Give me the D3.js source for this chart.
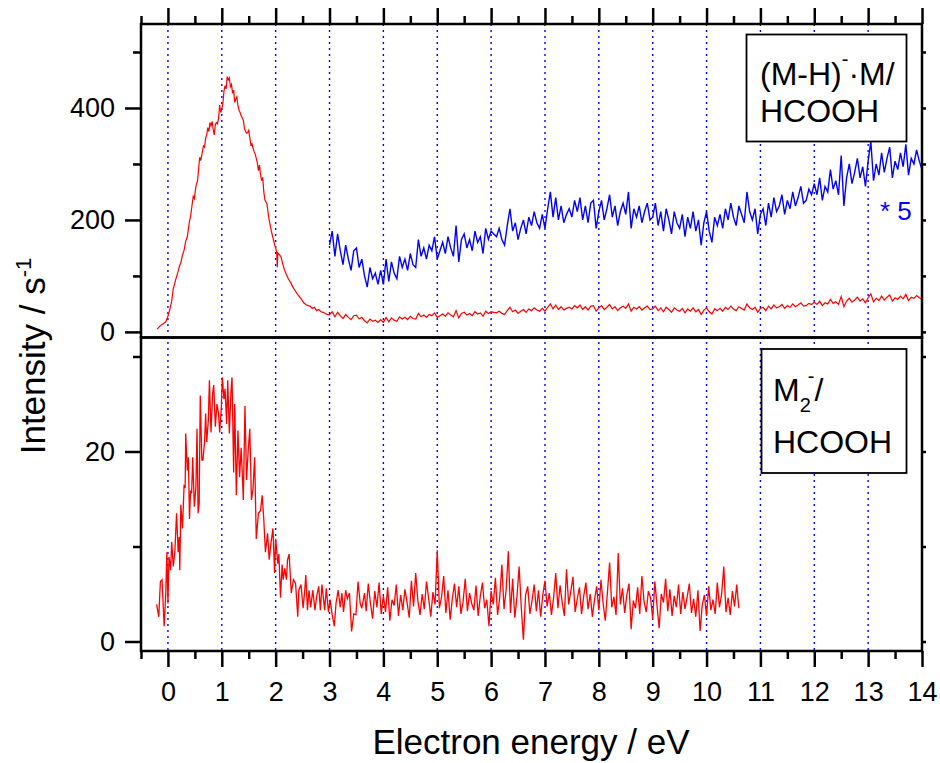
<!DOCTYPE html>
<html>
<head>
<meta charset="utf-8">
<script src="https://cdn.jsdelivr.net/npm/d3@7"></script>
<style>
body { margin: 0; background: #fff; }
svg { display: block; font-family: "Liberation Sans", Arial, sans-serif; }
</style>
</head>
<body>
<div class="chart"></div>
<script>

// (M-H)-.M / HCOOH, rising part of the spectrum, [energy eV, counts/s]
const topPeak = [[-0.2,5],[-0.16,9],[-0.12,13],[-0.08,15],[-0.04,18],[0,28],[0.04,42],[0.07,55],[0.1,78],[0.12,84],[0.14,92],[0.18,105],[0.21,116],[0.24,124],[0.27,137],[0.3,146],[0.33,162],[0.36,170],[0.38,184],[0.4,198],[0.42,206],[0.45,228],[0.47,242],[0.49,238],[0.52,260],[0.55,270],[0.57,292],[0.59,312],[0.61,306],[0.64,322],[0.66,332],[0.68,330],[0.7,346],[0.72,352],[0.74,365],[0.76,358],[0.78,374],[0.8,368],[0.82,376],[0.84,362],[0.86,352],[0.88,370],[0.9,374],[0.92,372],[0.94,382],[0.96,405],[0.98,392],[1,398],[1.02,408],[1.04,430],[1.06,440],[1.08,434],[1.1,456],[1.12,450],[1.14,454],[1.16,438],[1.18,442],[1.2,426],[1.22,432],[1.24,410],[1.26,416],[1.28,420],[1.3,404],[1.32,396],[1.34,392],[1.36,386],[1.38,382],[1.4,378],[1.42,364],[1.44,358],[1.46,355],[1.48,356],[1.5,360],[1.52,347],[1.54,334],[1.56,336],[1.58,328],[1.6,322],[1.62,318],[1.64,310],[1.66,302],[1.68,288],[1.7,298],[1.72,280],[1.74,270],[1.76,276],[1.78,250],[1.8,236],[1.82,232],[1.84,228],[1.86,212],[1.88,200],[1.9,190],[1.92,180],[1.94,172],[1.96,164],[1.98,156],[2,150],[2.02,142],[2.03,115],[2.04,141],[2.07,138],[2.1,134],[2.13,122],[2.16,112],[2.2,102],[2.24,94],[2.28,88],[2.32,80],[2.36,74],[2.4,68],[2.44,63],[2.48,58],[2.52,52],[2.56,49],[2.6,47],[2.64,46],[2.68,42],[2.72,44],[2.76,38],[2.8,40],[2.84,36],[2.88,35],[2.92,33],[2.96,31]];

// tail from 3.00 eV, one value every 0.05 eV (blue trace is the same tail * 5)
const tailStart = 3.0;
const tailStep = 0.05;
const topTail = [
  31,36,27,35,29,24,31,26,22,29,30,23,26,20,16,23,19,21,17,22,
  17,26,18,25,21,19,27,23,26,22,28,24,23,33,27,30,26,31,29,34,
  26,29,32,28,34,30,27,38,25,33,35,30,33,29,36,32,34,28,37,33,
  36,35,34,37,33,31,38,44,36,39,33,37,40,35,41,38,43,39,37,42,
  37,44,50,41,48,40,45,39,42,44,41,47,43,48,40,45,39,46,47,37,
  43,47,40,44,49,41,45,38,43,46,42,50,37,44,41,45,39,43,46,40,
  41,46,38,43,36,44,40,35,43,39,37,42,34,41,37,43,36,40,31,39,
  43,36,32,41,38,42,37,44,40,46,41,38,45,42,39,50,43,40,44,35,
  42,44,38,46,41,48,43,45,49,42,47,44,50,45,48,52,46,47,51,49,
  53,49,55,47,52,50,58,51,54,49,63,45,55,60,53,57,62,55,59,52,
  61,68,54,60,56,64,57,62,66,55,61,58,64,59,67,56,62,60,65,61,58
];
const blueFactor = 5;

// M2- / HCOOH, [energy eV, counts/s]
const bottomPeak = [[-0.21,3.9],[-0.17,2.6],[-0.14,6.3],[-0.11,6.5],[-0.07,1.6],[-0.04,5.1],[-0.02,9.4],[0,4],[0.02,8.9],[0.05,7.5],[0.07,10.5],[0.1,7.9],[0.13,9.6],[0.16,13.5],[0.19,9.4],[0.21,11],[0.22,7.5],[0.24,14.4],[0.27,11.9],[0.3,16.4],[0.32,16.3],[0.33,21.9],[0.36,18],[0.38,19.4],[0.4,12.9],[0.42,15.9],[0.44,15.6],[0.46,19.4],[0.49,14.2],[0.52,16.3],[0.54,22.4],[0.56,13.5],[0.58,14.5],[0.6,25.9],[0.63,19.1],[0.65,19.1],[0.68,21],[0.7,24],[0.72,21],[0.75,23.3],[0.77,27.5],[0.8,22],[0.83,26.1],[0.85,27],[0.88,22.6],[0.91,25],[0.94,24],[0.96,22],[0.99,24.5],[1.01,27.8],[1.04,25.5],[1.06,26.6],[1.09,22.9],[1.11,27.5],[1.14,21.9],[1.17,26.2],[1.19,27.8],[1.22,17.8],[1.24,25],[1.27,15.4],[1.3,22.2],[1.33,17.3],[1.36,20.4],[1.4,14.9],[1.43,24.8],[1.46,17],[1.49,20.1],[1.52,22.4],[1.55,14.9],[1.58,16.1],[1.61,19.4],[1.64,10.8],[1.68,13.5],[1.72,13.8],[1.75,15.4],[1.78,12.8],[1.81,9.4],[1.85,11.4],[1.88,8.6],[1.91,10.2],[1.95,11.9],[1.98,7.2],[2,10.8],[2.04,8.2],[2.06,9.2],[2.09,4.6],[2.12,8.1],[2.14,6.5],[2.17,7.7],[2.2,6.5],[2.22,8.6],[2.25,9.2],[2.29,5.1],[2.33,6.5],[2.37,6.1],[2.41,2.6],[2.43,5.4],[2.47,6],[2.51,3.5],[2.54,5.4],[2.56,7],[2.59,3.3],[2.62,5.4],[2.65,3.6],[2.69,5.4],[2.73,3.3],[2.76,4.7],[2.8,5.8],[2.83,3.3],[2.86,6],[2.91,3.3],[2.94,5.6],[2.98,3.1],[3.01,4.4],[3.05,2.8],[3.09,1.6],[3.12,4],[3.16,5.4],[3.2,3.6],[3.23,5.1],[3.26,3.1],[3.3,5.4],[3.33,4.5],[3.37,5.1],[3.41,1.05],[3.45,2.9],[3.49,2.8],[3.53,6.3],[3.57,4],[3.6,3.5],[3.65,5.1]];

// tail from 3.68 eV, one value every 0.04 eV
const bottomTailStart = 3.68;
const bottomTailStep = 0.04;
const bottomTail = [
  3.2,6.1,4.0,2.4,5.3,3.6,6.2,2.9,4.8,3.1,5.7,2.2,4.4,3.8,6.0,2.7,4.9,3.3,5.5,4.1,2.5,6.4,3.7,7.2,4.3,
  2.8,5.0,3.4,6.3,4.6,2.6,5.2,3.9,9.6,3.5,4.7,6.9,3.0,5.4,2.3,4.5,6.1,3.6,5.8,2.9,4.2,6.6,3.2,5.1,4.0,
  3.3,5.9,2.7,4.8,6.2,3.5,4.4,1.6,5.3,3.9,6.7,2.8,4.6,8.1,3.4,5.5,9.5,3.0,6.6,2.5,4.7,7.9,3.6,0.2,4.9,
  5.8,2.9,4.3,6.0,3.2,5.4,2.6,4.9,6.4,3.7,5.1,2.8,4.6,7.2,3.5,5.9,4.1,2.7,7.6,3.9,5.3,6.8,3.1,4.5,5.7,
  2.9,4.8,6.2,3.4,5.0,2.6,4.4,5.8,3.3,6.5,4.0,2.2,5.2,8.3,3.6,4.7,2.8,9.3,3.9,5.6,3.0,4.9,6.1,1.3,4.3,
  3.5,5.7,2.9,6.9,4.2,3.1,5.3,4.6,2.4,6.3,3.8,1.4,5.0,4.1,6.6,3.2,5.5,2.7,4.8,3.6,6.0,2.9,5.2,3.4,4.7,
  6.1,3.0,4.5,2.6,5.4,1.1,3.8,4.9,2.7,5.8,3.3,4.4,2.9,6.2,3.6,5.0,7.9,3.1,4.6,2.8,5.3,3.7,6.0,3.5
];

const xMajor = [0,1,2,3,4,5,6,7,8,9,10,11,12,13,14];
const xMinor = [-0.5,0.5,1.5,2.5,3.5,4.5,5.5,6.5,7.5,8.5,9.5,10.5,11.5,12.5,13.5];
const gridLines = [0,1,2,3,4,5,6,7,8,9,10,11,12,13];
const topMajor = [0,200,400];
const topMinor = [100,300,500];
const topRight = [0,100,200,300,400,500];
const botMajor = [0,20];
const botMinor = [10,30];
const botRight = [0,10,20,30];

const W = 940, H = 763;
const fLeft = 141, fRight = 922, fTop = 24, fMid = 337.5, fBottom = 651;
const font = '"Liberation Sans", Arial, sans-serif';

const xScale = d3.scaleLinear().domain([-0.5, 14]).range([fLeft, fRight]);
const yTop = d3.scaleLinear().domain([-10, 550]).range([fMid, fTop]);
const yBot = d3.scaleLinear().domain([-1, 32]).range([fBottom, fMid]);

const topRed = topPeak.concat(topTail.map((v, i) => [tailStart + i * tailStep, v]));
const topBlue = topTail.map((v, i) => [tailStart + i * tailStep, v * blueFactor]);
const botRed = bottomPeak.concat(bottomTail.map((v, i) => [bottomTailStart + i * bottomTailStep, v]));

const svg = d3.select('.chart').append('svg')
  .attr('width', W)
  .attr('height', H);

// dotted guide lines
svg.append('g').selectAll('line')
  .data(gridLines)
  .enter().append('line')
  .attr('x1', d => xScale(d)).attr('x2', d => xScale(d))
  .attr('y1', fTop).attr('y2', fBottom)
  .attr('stroke', '#0000ff')
  .attr('stroke-width', 1.4)
  .attr('stroke-dasharray', '2,4');

const lineTop = d3.line().x(d => xScale(d[0])).y(d => yTop(d[1]));
const lineBot = d3.line().x(d => xScale(d[0])).y(d => yBot(d[1]));

svg.append('path').datum(topBlue)
  .attr('d', lineTop).attr('fill', 'none')
  .attr('stroke', '#0000ff').attr('stroke-width', 1.4);

svg.append('path').datum(topRed)
  .attr('d', lineTop).attr('fill', 'none')
  .attr('stroke', '#ff0000').attr('stroke-width', 1.2);

svg.append('path').datum(botRed)
  .attr('d', lineBot).attr('fill', 'none')
  .attr('stroke', '#ff0000').attr('stroke-width', 1.3);

// axes
function addAxis(gen, transform, labels) {
  const g = svg.append('g').attr('transform', transform).call(gen);
  g.select('.domain').remove();
  g.attr('font-family', font).attr('font-size', 27);
  g.selectAll('line').attr('stroke', '#000').attr('stroke-width', 2.5);
  g.selectAll('text').attr('fill', '#000');
  if (!labels) g.selectAll('text').remove();
}

addAxis(d3.axisTop(xScale).tickValues(xMajor).tickSize(16), `translate(0,${fTop})`, false);
addAxis(d3.axisTop(xScale).tickValues(xMinor).tickSize(8), `translate(0,${fTop})`, false);
addAxis(d3.axisBottom(xScale).tickValues(xMajor).tickSize(16).tickPadding(15).tickFormat(d3.format('d')), `translate(0,${fBottom})`, true);
addAxis(d3.axisBottom(xScale).tickValues(xMinor).tickSize(8), `translate(0,${fBottom})`, false);

addAxis(d3.axisLeft(yTop).tickValues(topMajor).tickSize(16).tickPadding(10).tickFormat(d3.format('d')), `translate(${fLeft},0)`, true);
addAxis(d3.axisLeft(yTop).tickValues(topMinor).tickSize(8), `translate(${fLeft},0)`, false);
addAxis(d3.axisLeft(yBot).tickValues(botMajor).tickSize(16).tickPadding(10).tickFormat(d3.format('d')), `translate(${fLeft},0)`, true);
addAxis(d3.axisLeft(yBot).tickValues(botMinor).tickSize(8), `translate(${fLeft},0)`, false);

addAxis(d3.axisRight(yTop).tickValues(topRight).tickSize(4), `translate(${fRight},0)`, false);
addAxis(d3.axisRight(yBot).tickValues(botRight).tickSize(4), `translate(${fRight},0)`, false);

// frames
svg.append('rect')
  .attr('x', fLeft).attr('y', fTop)
  .attr('width', fRight - fLeft).attr('height', fMid - fTop)
  .attr('fill', 'none').attr('stroke', '#000').attr('stroke-width', 2.5);
svg.append('rect')
  .attr('x', fLeft).attr('y', fMid)
  .attr('width', fRight - fLeft).attr('height', fBottom - fMid)
  .attr('fill', 'none').attr('stroke', '#000').attr('stroke-width', 2.5);

// legend boxes
svg.append('rect')
  .attr('x', 746.5).attr('y', 34.5).attr('width', 160).attr('height', 107)
  .attr('fill', '#fff').attr('stroke', '#000').attr('stroke-width', 1.8);

const leg1 = svg.append('text')
  .attr('font-size', 32).attr('fill', '#000');
const l1 = leg1.append('tspan').attr('x', 760).attr('y', 85);
l1.append('tspan').text('(M-H)');
l1.append('tspan').attr('font-size', 20).attr('dy', -19).text('-');
l1.append('tspan').attr('dy', 19).text('·M/');
leg1.append('tspan').attr('x', 760).attr('y', 121.5).text('HCOOH');

svg.append('rect')
  .attr('x', 761.5).attr('y', 349).attr('width', 145).attr('height', 124)
  .attr('fill', '#fff').attr('stroke', '#000').attr('stroke-width', 1.8);

const leg2 = svg.append('text')
  .attr('font-size', 32).attr('fill', '#000');
const l2 = leg2.append('tspan').attr('x', 773).attr('y', 400.5);
l2.append('tspan').text('M');
l2.append('tspan').attr('font-size', 20).attr('dy', 11).text('2');
l2.append('tspan').attr('font-size', 20).attr('dx', -3).attr('dy', -29).text('-');
l2.append('tspan').attr('dy', 18).text('/');
leg2.append('tspan').attr('x', 773).attr('y', 452.5).text('HCOOH');

svg.append('text')
  .attr('x', 880).attr('y', 220)
  .attr('font-size', 26).attr('fill', '#0000ff')
  .text('* 5');

// axis titles
const yTitle = svg.append('text')
  .attr('transform', 'translate(45,356) rotate(-90)')
  .attr('text-anchor', 'middle')
  .attr('font-size', 35).attr('fill', '#000');
yTitle.append('tspan').text('Intensity / s');
yTitle.append('tspan').attr('font-size', 22).attr('dy', -14).text('-1');

svg.append('text')
  .attr('x', 531).attr('y', 754)
  .attr('text-anchor', 'middle')
  .attr('font-size', 35).attr('fill', '#000')
  .text('Electron energy / eV');

</script>
</body>
</html>
